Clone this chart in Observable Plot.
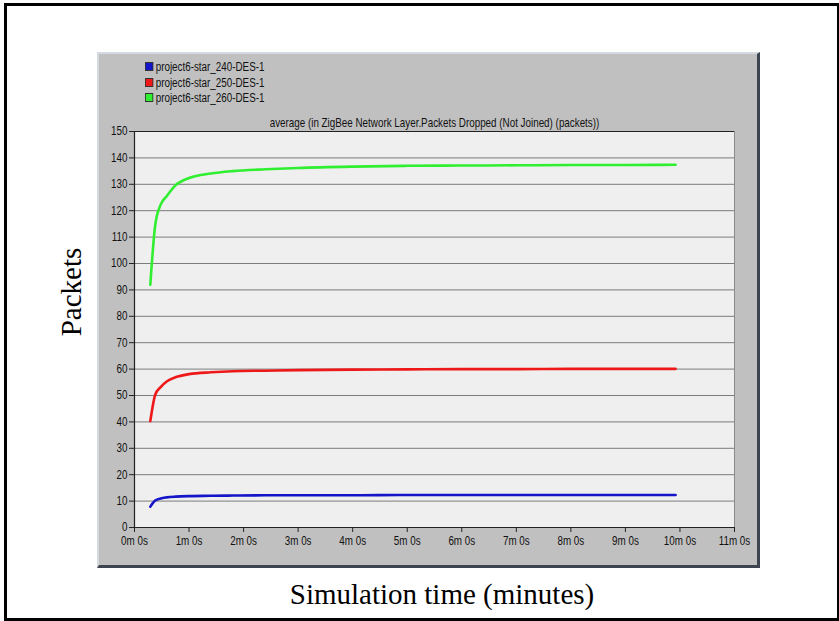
<!DOCTYPE html>
<html>
<head>
<meta charset="utf-8">
<script src="https://cdn.jsdelivr.net/npm/d3@7"></script>
<script src="https://cdn.jsdelivr.net/npm/@observablehq/plot@0.6"></script>
<style>
  html, body { margin: 0; padding: 0; background: #fff; width: 839px; height: 621px; overflow: hidden; }
  #outer { position: absolute; left: 4px; top: 3px; width: 835px; height: 618px; box-sizing: border-box; border: 3px solid #000; border-right-width: 2px; }
  #panel { position: absolute; left: 97px; top: 52px; width: 663px; height: 516px; box-sizing: border-box; background: #c0c0c0;
           border-style: solid; border-width: 2px 3px 3px 2px; border-color: #d4d9e2 #3c4550 #3c4550 #d4d9e2; }
  #chart { position: absolute; left: 97px; top: 52px; }
  .leg { position: absolute; left: 145px; font: 12px "Liberation Sans", Arial, sans-serif; color: #111; white-space: nowrap; line-height: 14px; transform: scaleX(0.82); transform-origin: 0 50%; }
  .leg span.sw { display: inline-block; width: 8px; height: 7px; border: 1px solid #333; border-left-width: 1.3px; border-right-width: 1.3px; margin-right: 3px; }
  #xlab { position: absolute; left: 45px; width: 794px; top: 578px; text-align: center; font: 29px "Liberation Serif", "DejaVu Serif", serif; color: #000; line-height: 32px; }
  #ylab { position: absolute; left: 71px; top: 292px; transform: translate(-50%, -50%) rotate(-90deg); font: 29px "Liberation Serif", "DejaVu Serif", serif; color: #000; white-space: nowrap; line-height: 32px; }
</style>
</head>
<body>
<div id="outer"></div>
<div id="panel"></div>
<div id="chart"></div>
<div id="legend"></div>
<div id="xlab">Simulation time (minutes)</div>
<div id="ylab">Packets</div>
<script>
// ---- data ----
const seriesNames = ["project6-star_240-DES-1", "project6-star_250-DES-1", "project6-star_260-DES-1"];
const seriesColors = ["#1414c8", "#ee1818", "#30ee30"];
const times = [0.29, 0.38, 0.48, 0.59, 0.75, 1.0, 1.4, 1.8, 2.4, 3.0, 4.0, 5.0, 6.0, 7.0, 8.0, 9.0, 9.92];
const blue  = [7.9, 10.2, 11.0, 11.4, 11.7, 11.9, 12.0, 12.1, 12.2, 12.2, 12.2, 12.3, 12.3, 12.3, 12.3, 12.3, 12.3];
const red   = [40.3, 50.3, 53.2, 55.3, 56.9, 58.1, 58.8, 59.2, 59.4, 59.6, 59.8, 59.9, 60.0, 60.0, 60.1, 60.1, 60.1];
const green = [92.0, 114.6, 122.3, 125.5, 129.6, 132.4, 134.1, 135.0, 135.7, 136.2, 136.7, 137.0, 137.1, 137.2, 137.3, 137.3, 137.4];
const xTicks = [0, 1, 2, 3, 4, 5, 6, 7, 8, 9, 10, 11];
const xTickLabels = ["0m 0s", "1m 0s", "2m 0s", "3m 0s", "4m 0s", "5m 0s", "6m 0s", "7m 0s", "8m 0s", "9m 0s", "10m 0s", "11m 0s"];
const yTicks = [0, 10, 20, 30, 40, 50, 60, 70, 80, 90, 100, 110, 120, 130, 140, 150];
const chartTitle = "average (in ZigBee Network Layer.Packets Dropped (Not Joined) (packets))";

const seriesValues = [blue, red, green];
const rows = [];
seriesNames.forEach((name, i) => {
  times.forEach((t, j) => rows.push({series: name, t, v: seriesValues[i][j]}));
});

const sans = '"Liberation Sans", Arial, sans-serif';

const chart = Plot.plot({
  width: 663,
  height: 516,
  marginLeft: 37,
  marginRight: 26,
  marginTop: 79,
  marginBottom: 41,
  style: {background: "transparent", fontFamily: sans, fontSize: "12px", color: "#111", overflow: "visible"},
  x: {domain: [0, 11], label: null},
  y: {domain: [0, 150], label: null},
  color: {domain: seriesNames, range: seriesColors},
  marks: [
    Plot.frame({fill: "#efefef", stroke: null}),
    Plot.gridY(yTicks, {stroke: "#7c7c7c", strokeOpacity: 1, strokeWidth: 1}),
    Plot.ruleX([11], {stroke: "#8a8a8a", strokeWidth: 1}),
    Plot.ruleY([150], {stroke: "#222", strokeWidth: 1.2}),
    Plot.ruleY([0], {stroke: "#222", strokeWidth: 1.2}),
    Plot.ruleX([0], {stroke: "#222", strokeWidth: 1.2}),
    Plot.line(rows, {x: "t", y: "v", z: "series", stroke: "series", strokeWidth: 2.6, curve: "monotone-x"}),
    Plot.axisX(xTicks, {tickFormat: (d, i) => xTickLabels[i], tickSize: 5, tickPadding: 4, stroke: "#222", fill: "#111", fontSize: 12}),
    Plot.axisY(yTicks, {tickSize: 5, tickPadding: 2, stroke: "#222", fill: "#111", fontSize: 12}),
    Plot.text([chartTitle], {frameAnchor: "top", dy: -13, text: d => d, fontSize: 12, fill: "#111"})
  ]
});

// mimic the narrow sans-serif face of the original by condensing text horizontally
chart.querySelectorAll("text").forEach(t => {
  const x = +(t.getAttribute("x") || 0);
  const tr = t.getAttribute("transform") || "";
  t.removeAttribute("x");
  t.setAttribute("transform", `${tr} translate(${x},0) scale(0.82,1)`);
});
document.getElementById("chart").appendChild(chart);

const legend = document.getElementById("legend");
seriesNames.forEach((name, i) => {
  const d = document.createElement("div");
  d.className = "leg";
  d.style.top = (60 + i * 15.5) + "px";
  const sw = document.createElement("span");
  sw.className = "sw";
  sw.style.background = seriesColors[i];
  d.appendChild(sw);
  d.appendChild(document.createTextNode(name));
  legend.appendChild(d);
});
</script>
</body>
</html>
